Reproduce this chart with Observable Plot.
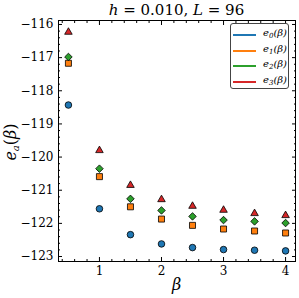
<!DOCTYPE html>
<html><head><meta charset="utf-8">
<script src="https://cdn.jsdelivr.net/npm/d3@7"></script>
<script src="https://cdn.jsdelivr.net/npm/@observablehq/plot@0.6"></script>
<style>
html,body{margin:0;padding:0;background:#fff;}
#wrap{position:relative;width:299px;height:298px;font-family:"DejaVu Serif",serif;}
.ov{position:absolute;color:#000;white-space:nowrap;}
#title{left:58px;width:237px;top:1px;text-align:center;font-size:15px;}
#xlab{left:58px;width:237px;top:275px;text-align:center;font-size:16px;font-style:italic;}
#ylab{left:11px;top:142px;font-size:16px;transform:translate(-50%,-50%) rotate(-90deg);}
#legend{left:230px;top:23px;width:59px;height:66px;border:1px solid #444;border-radius:3px;background:#fff;box-sizing:border-box;}
.li{position:absolute;left:2px;height:14px;font-size:10px;font-style:italic;}
.li span.sw{position:absolute;left:0;top:6px;width:23px;height:2px;}
.li span.tx{position:absolute;left:30px;top:-1px;}
sub{font-size:7px;vertical-align:-2px;}
#ylab sub{font-size:10px;vertical-align:-3px;}
</style></head>
<body>
<div id="wrap"></div>
<script>
const betas = [0.5, 1, 1.5, 2, 2.5, 3, 3.5, 4];
const e0 = [-118.43, -121.56, -122.34, -122.62, -122.73, -122.79, -122.81, -122.83];
const e1 = [-117.17, -120.59, -121.50, -121.87, -122.06, -122.17, -122.23, -122.29];
const e2 = [-116.98, -120.35, -121.26, -121.61, -121.79, -121.90, -121.94, -121.99];
const e3 = [-116.23, -119.80, -120.85, -121.28, -121.48, -121.60, -121.70, -121.76];
const seriesNames = ["e0", "e1", "e2", "e3"];
const seriesColors = ["#1f77b4", "#ff7f0e", "#2ca02c", "#d62728"];
const seriesSymbols = ["circle", "square", "diamond2", "triangle"];
const xTicks = [1, 2, 3, 4];
const yTicks = [-123, -122, -121, -120, -119, -118, -117, -116];
const xMinor = d3.range(0.4, 4.16, 0.2).map(v => +v.toFixed(2)).filter(v => !xTicks.includes(v));
const yMinor = d3.range(-123.0, -115.9, 0.2).map(v => +v.toFixed(2)).filter(v => !yTicks.includes(v));

const allSeries = [e0, e1, e2, e3];
const rows = [];
allSeries.forEach((vals, i) => vals.forEach((v, j) => rows.push({beta: betas[j], value: v, s: seriesNames[i]})));

const dotMarks = seriesNames.map((name, i) =>
  Plot.dot(rows.filter(d => d.s === name), {
    x: "beta", y: "value", symbol: () => seriesSymbols[i],
    fill: seriesColors[i], stroke: "black", strokeWidth: 0.8,
    r: i === 3 ? 2.8 : (i === 0 ? 3.3 : 3.4)
  })
);

const chart = Plot.plot({
  width: 299, height: 298,
  marginLeft: 58, marginRight: 4, marginTop: 20, marginBottom: 37,
  x: {domain: [0.34, 4.16]},
  y: {domain: [-123.15, -115.88]},
  symbol: {type: "identity"},
  style: {fontFamily: "DejaVu Serif", fontSize: "12px", background: "white", color: "black"},
  marks: [
    Plot.axisX(xTicks, {anchor: "bottom", tickSize: -4, tickPadding: 9, label: null, fontSize: 12}),
    Plot.axisX(xTicks, {anchor: "top", tickSize: -4, tickFormat: () => "", label: null}),
    Plot.axisX(xMinor, {anchor: "bottom", tickSize: -2, tickFormat: () => "", label: null}),
    Plot.axisX(xMinor, {anchor: "top", tickSize: -2, tickFormat: () => "", label: null}),
    Plot.axisY(yTicks, {anchor: "left", tickSize: -4, tickPadding: 9, label: null, fontSize: 12}),
    Plot.axisY(yTicks, {anchor: "right", tickSize: -4, tickFormat: () => "", label: null}),
    Plot.axisY(yMinor, {anchor: "left", tickSize: -2, tickFormat: () => "", label: null}),
    Plot.axisY(yMinor, {anchor: "right", tickSize: -2, tickFormat: () => "", label: null}),
    Plot.frame({stroke: "black", strokeWidth: 1}),
    ...dotMarks
  ]
});

const wrap = document.getElementById("wrap");
wrap.appendChild(chart);
function ov(id, html) { const d = document.createElement("div"); d.className = "ov"; d.id = id; d.innerHTML = html; wrap.appendChild(d); return d; }
ov("title", "<i>h</i> = 0.010, <i>L</i> = 96");
ov("xlab", "β");
ov("ylab", "<i>e<sub>a</sub></i>(<i>β</i>)");
const leg = ov("legend", "");
seriesNames.forEach((n, i) => {
  const it = document.createElement("div");
  it.className = "li";
  it.style.top = (4 + i * 15.5) + "px";
  it.innerHTML = `<span class="sw" style="background:${seriesColors[i]}"></span><span class="tx">e<sub>${i}</sub>(β)</span>`;
  leg.appendChild(it);
});
</script>
</body></html>
